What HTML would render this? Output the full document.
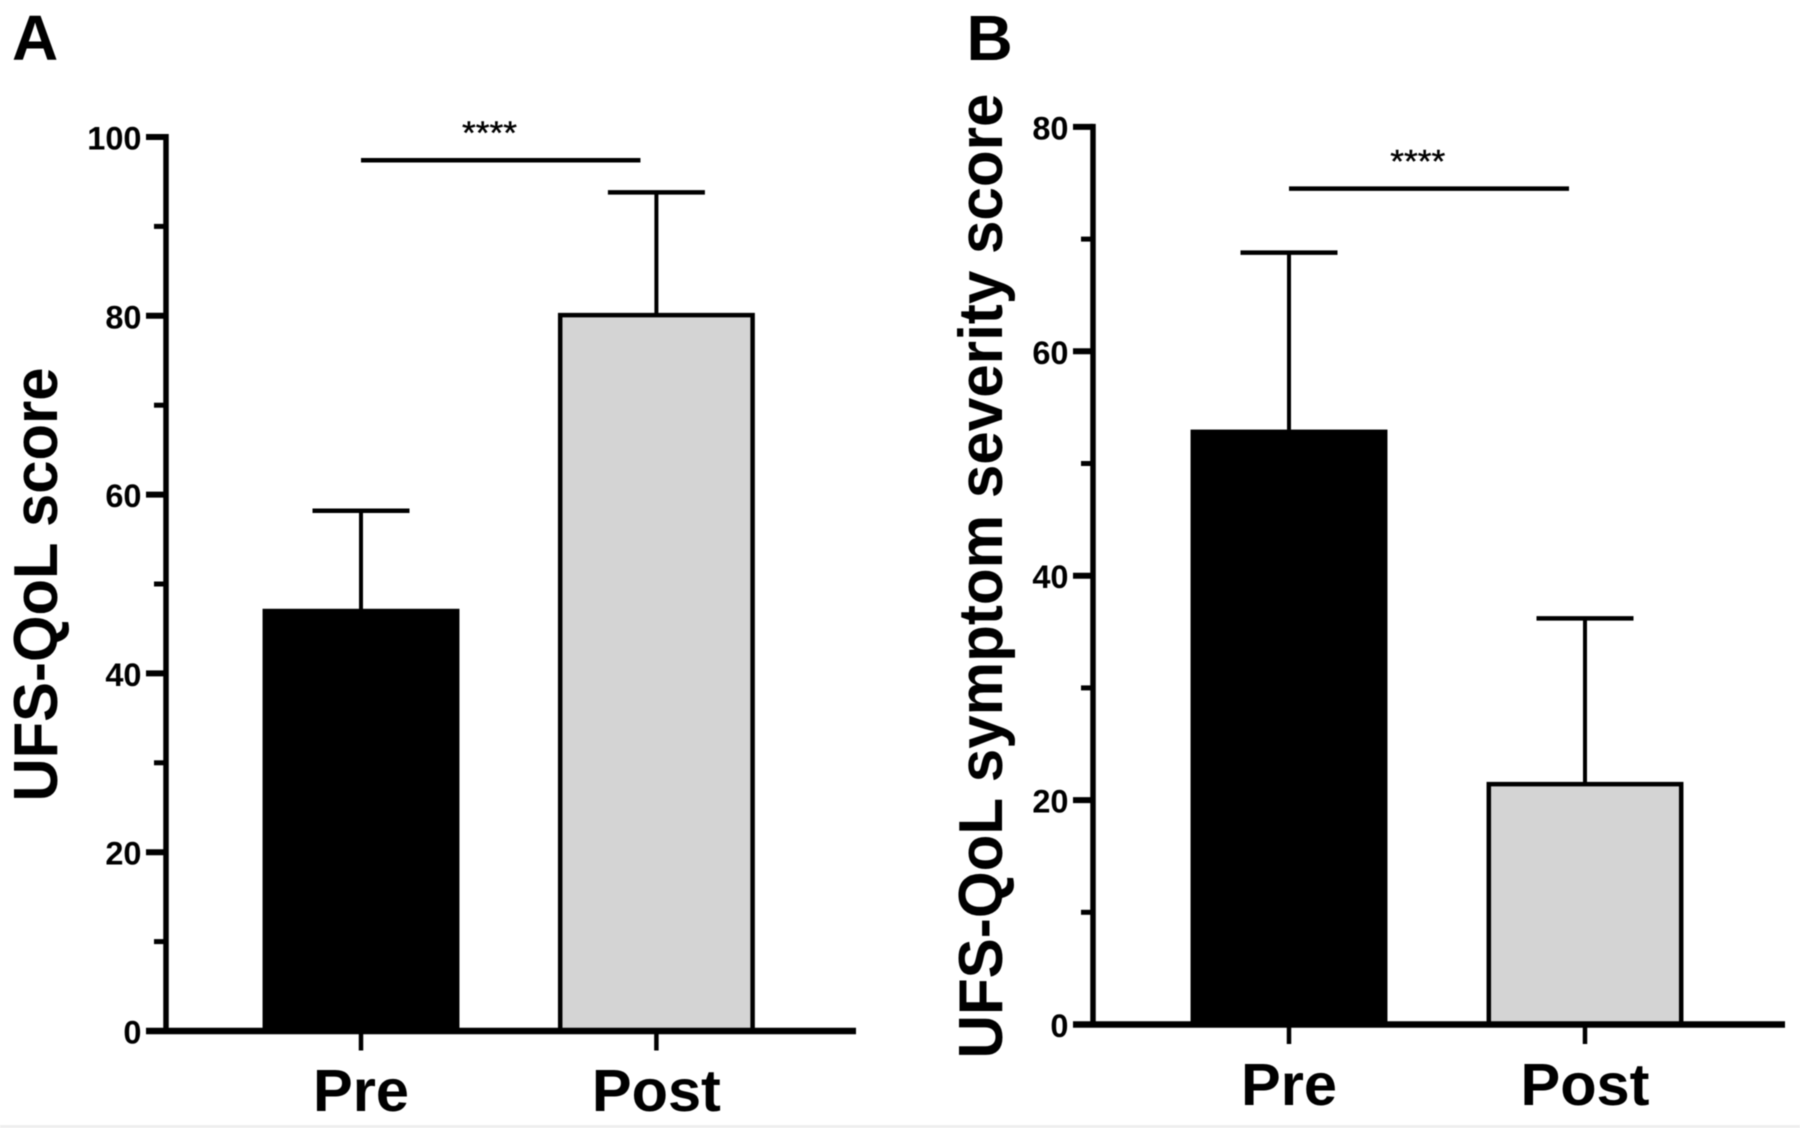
<!DOCTYPE html>
<html>
<head>
<meta charset="utf-8">
<title>UFS-QoL scores pre and post</title>
<style>
html,body{margin:0;padding:0;background:#fff;width:1800px;height:1128px;overflow:hidden}
svg{display:block;filter:blur(0.5px)}
text{font-family:"Liberation Sans",sans-serif;font-weight:bold;fill:#000}
</style>
</head>
<body>
<svg id="figure" width="1800" height="1128" viewBox="0 0 1800 1128" xmlns="http://www.w3.org/2000/svg">
  <rect x="0" y="0" width="1800" height="1128" fill="#fff"/>
  <rect x="0" y="1125" width="1800" height="3" fill="#eeeeee"/>
  <text x="12" y="60" font-size="64">A</text>
  <text x="966.5" y="60" font-size="64">B</text>
  <text transform="translate(57,584.5) rotate(-90)" text-anchor="middle" font-size="62" textLength="434" lengthAdjust="spacingAndGlyphs">UFS-QoL score</text>
  <text transform="translate(1002,576) rotate(-90)" text-anchor="middle" font-size="62" textLength="965" lengthAdjust="spacingAndGlyphs">UFS-QoL symptom severity score</text>
  <g id="panel-a"></g>
  <g id="panel-b"></g>
</svg>
<script>
const categories = ['Pre', 'Post'];

const qolMeans = [47.2, 80.3];
const qolUpperError = [58.2, 93.8];
const qolTickLabels = [0, 20, 40, 60, 80, 100];
const qolMinorTicks = [10, 30, 50, 70, 90];
const qolBracketLevel = 97.4;
const qolSignificance = '****';

const severityMeans = [53.0, 21.6];
const severityUpperError = [68.8, 36.2];
const severityTickLabels = [0, 20, 40, 60, 80];
const severityMinorTicks = [10, 30, 50, 70];
const severityBracketLevel = 74.5;
const severitySignificance = '****';

const SVG_NS = 'http://www.w3.org/2000/svg';

function shape(parent, tag, props) {
  const el = document.createElementNS(SVG_NS, tag);
  for (const key in props) el.setAttribute(key, props[key]);
  parent.appendChild(el);
  return el;
}

function drawPanel(root, opt) {
  const y = opt.yScale;
  const x = opt.xScale;

  opt.means.forEach(function (mean, i) {
    const top = y(mean);
    const up = y(opt.upper[i]);
    const stem = shape(root, 'line', { x1: x(i), x2: x(i), y1: up, y2: top, stroke: '#000', 'stroke-width': 4 });
    
    
    const cap = shape(root, 'line', { x1: x(i) - 48.5, x2: x(i) + 48.5, y1: up, y2: up, stroke: '#000', 'stroke-width': 4.5 });
    
    
    const half = i === 0 ? 96.2 : 96.2;
    const bar = shape(root, 'rect', {
      x: x(i) - half, width: half * 2,
      y: top + 2, height: Math.max(0, y(0) - top - 2),
      fill: i === 0 ? '#000' : '#d4d4d4', stroke: '#000', 'stroke-width': 4.5
    });
    
    
  });

  const yAxis = shape(root, 'line', { x1: opt.axisX, x2: opt.axisX, y1: y(opt.ticks[opt.ticks.length - 1]) - 3, y2: y(0) + 3, stroke: '#000', 'stroke-width': 5.5 });
  
  
  const xAxis = shape(root, 'line', { x1: opt.axisX - 20, x2: opt.axisEnd, y1: y(0), y2: y(0), stroke: '#000', 'stroke-width': 6.5 });
  
  

  opt.ticks.forEach(function (v) {
    const tick = shape(root, 'line', { x1: opt.axisX - 20, x2: opt.axisX, y1: y(v), y2: y(v), stroke: '#000', 'stroke-width': 6 });
    
    
    const label = shape(root, 'text', { x: opt.axisX - 24.5, y: y(v) + 12.5, 'text-anchor': 'end', 'font-size': 32.5 });
    label.textContent = v;
    
    
  });

  opt.minor.forEach(function (v) {
    const tick = shape(root, 'line', { x1: opt.axisX - 12, x2: opt.axisX, y1: y(v), y2: y(v), stroke: '#000', 'stroke-width': 5 });
    
    
  });

  categories.forEach(function (name, i) {
    const tick = shape(root, 'line', { x1: x(i), x2: x(i), y1: y(0), y2: y(0) + 19.5, stroke: '#000', 'stroke-width': 4.5 });
    
    
    const label = shape(root, 'text', { x: x(i), y: opt.labelY, 'text-anchor': 'middle', 'font-size': 59.5 });
    label.textContent = name;
    
    
  });

  const bracket = shape(root, 'line', { x1: x(0), x2: x(0.946), y1: y(opt.bracket), y2: y(opt.bracket), stroke: '#000', 'stroke-width': 4.5 });
  
  
  const stars = shape(root, 'text', { x: x(0.435), y: y(opt.bracket) - 16, 'text-anchor': 'middle', 'font-size': 32, textLength: 55, lengthAdjust: 'spacingAndGlyphs', style: 'font-weight:normal;stroke:#000;stroke-width:.4px' });
  stars.textContent = opt.stars;
  
  
}

drawPanel(document.getElementById('panel-a'), {
  means: qolMeans, upper: qolUpperError, ticks: qolTickLabels, minor: qolMinorTicks,
  bracket: qolBracketLevel, stars: qolSignificance,
  yScale: function (v) { return 1031 - 8.94 * v; },
  xScale: function (i) { return 361 + 295.4 * i; },
  axisX: 166, axisEnd: 856, labelY: 1111
});

drawPanel(document.getElementById('panel-b'), {
  means: severityMeans, upper: severityUpperError, ticks: severityTickLabels, minor: severityMinorTicks,
  bracket: severityBracketLevel, stars: severitySignificance,
  yScale: function (v) { return 1024.5 - 11.22 * v; },
  xScale: function (i) { return 1289 + 296 * i; },
  axisX: 1093, axisEnd: 1785, labelY: 1105
});
</script>
</body>
</html>
